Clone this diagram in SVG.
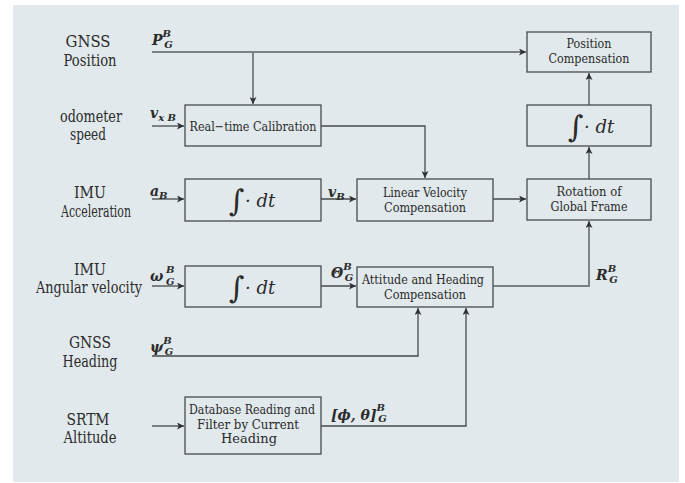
<svg xmlns="http://www.w3.org/2000/svg" width="685" height="483" viewBox="0 0 685 483">
<defs>
<marker id="ah" viewBox="0 0 10 10" refX="10" refY="5" markerWidth="7" markerHeight="7" markerUnits="userSpaceOnUse" orient="auto">
<path d="M0,0 L10,5 L0,10 L2.5,5 Z" fill="#2e3133"/>
</marker>
<style>
text{font-family:'DejaVu Serif','Liberation Serif',serif}
.lbl{font-size:16px;fill:#2b2b2b;text-anchor:middle}
.bt{font-size:13px;fill:#2b2b2b;text-anchor:middle}
.box{fill:none;stroke:#474a4c;stroke-width:1.3}
.m{font-style:italic;font-weight:bold;font-size:14px;fill:#2b2b2b}
.ms{font-size:10px}
.int{font-size:30px;fill:#2b2b2b}
.dt{font-style:italic;font-size:18px;fill:#2b2b2b}
.c1{fill:none;stroke:#7d8284;stroke-width:2}
.c2{fill:none;stroke:#45494b;stroke-width:1.3}
</style>
</defs>
<rect x="13" y="5" width="666" height="477" fill="#e1e9ec"/>

<g id="input-labels">
<text class="lbl" x="88" y="47" textLength="45" lengthAdjust="spacingAndGlyphs">GNSS</text>
<text class="lbl" x="90" y="66" textLength="53" lengthAdjust="spacingAndGlyphs">Position</text>
<text class="lbl" x="91" y="122" textLength="62" lengthAdjust="spacingAndGlyphs">odometer</text>
<text class="lbl" x="88" y="140" textLength="36" lengthAdjust="spacingAndGlyphs">speed</text>
<text class="lbl" x="90" y="198" textLength="32" lengthAdjust="spacingAndGlyphs">IMU</text>
<text class="lbl" x="96" y="217" textLength="70" lengthAdjust="spacingAndGlyphs">Acceleration</text>
<text class="lbl" x="90" y="275" textLength="32" lengthAdjust="spacingAndGlyphs">IMU</text>
<text class="lbl" x="89" y="293" textLength="106" lengthAdjust="spacingAndGlyphs">Angular velocity</text>
<text class="lbl" x="90" y="348" textLength="42" lengthAdjust="spacingAndGlyphs">GNSS</text>
<text class="lbl" x="90" y="367" textLength="55" lengthAdjust="spacingAndGlyphs">Heading</text>
<text class="lbl" x="88" y="425" textLength="43" lengthAdjust="spacingAndGlyphs">SRTM</text>
<text class="lbl" x="90" y="443" textLength="53" lengthAdjust="spacingAndGlyphs">Altitude</text>
</g>

<g id="connectors">
<path class="c1" d="M152,52 H526" marker-end="url(#ah)"/>
<path class="c1" d="M253,52 V104" marker-end="url(#ah)"/>
<path class="c2" d="M152,126 H184" marker-end="url(#ah)"/>
<path class="c2" d="M321,126 H425 V178" marker-end="url(#ah)"/>
<path class="c2" d="M152,199 H184" marker-end="url(#ah)"/>
<path class="c2" d="M321,199 H356" marker-end="url(#ah)"/>
<path class="c2" d="M493,199 H526" marker-end="url(#ah)"/>
<path class="c1" d="M589,179 V147" marker-end="url(#ah)"/>
<path class="c1" d="M589,105 V73" marker-end="url(#ah)"/>
<path class="c2" d="M152,286 H184" marker-end="url(#ah)"/>
<path class="c2" d="M321,286 H356" marker-end="url(#ah)"/>
<path class="c1" d="M493,286 H589 V221" marker-end="url(#ah)"/>
<path class="c2" d="M152,356 H418 V308" marker-end="url(#ah)"/>
<path class="c2" d="M152,426 H184" marker-end="url(#ah)"/>
<path class="c2" d="M321,426 H466 V308" marker-end="url(#ah)"/>
</g>

<g id="signal-labels">
<text class="m" x="152" y="45">P<tspan class="ms" dy="-8">B</tspan><tspan class="ms" dx="-7" dy="11">G</tspan></text>
<text class="m" x="150" y="118">v<tspan class="ms" dy="3">x B</tspan></text>
<text class="m" x="150" y="196">a<tspan class="ms" dy="3">B</tspan></text>
<text class="m" x="328" y="197">v<tspan class="ms" dy="3">B</tspan></text>
<text class="m" x="150" y="281">ω</text>
<text class="m ms" x="166" y="273">B</text>
<text class="m ms" x="166" y="285">G</text>
<text class="m" x="331" y="278">Θ<tspan class="ms" dy="-8">B</tspan><tspan class="ms" dx="-7" dy="11">G</tspan></text>
<text class="m" x="596" y="280">R<tspan class="ms" dy="-8">B</tspan><tspan class="ms" dx="-7" dy="11">G</tspan></text>
<text class="m" x="150" y="352">ψ<tspan class="ms" dy="-8">B</tspan><tspan class="ms" dx="-7" dy="11">G</tspan></text>
<text class="m" x="331" y="420">[ϕ, θ]<tspan class="ms" dy="-9">B</tspan><tspan class="ms" dx="-7" dy="11">G</tspan></text>
</g>

<g id="real-time-calibration">
<rect class="box" x="185" y="105" width="136" height="41"/>
<text class="bt" x="253" y="131" textLength="127" lengthAdjust="spacingAndGlyphs">Real−time Calibration</text>
</g>
<g id="position-compensation">
<rect class="box" x="527" y="32" width="124" height="40"/>
<text class="bt" x="589" y="48" textLength="45" lengthAdjust="spacingAndGlyphs">Position</text>
<text class="bt" x="589" y="63" textLength="81" lengthAdjust="spacingAndGlyphs">Compensation</text>
</g>
<g id="integral-position">
<rect class="box" x="527" y="105" width="124" height="41"/>
<text class="int" x="568" y="137">∫</text><text class="dt" x="584" y="133">· dt</text>
</g>
<g id="integral-acceleration">
<rect class="box" x="185" y="179" width="136" height="42"/>
<text class="int" x="229" y="211">∫</text><text class="dt" x="245" y="207">· dt</text>
</g>
<g id="linear-velocity-compensation">
<rect class="box" x="357" y="179" width="136" height="42"/>
<text class="bt" x="425" y="197" textLength="84" lengthAdjust="spacingAndGlyphs">Linear Velocity</text>
<text class="bt" x="425" y="212" textLength="82" lengthAdjust="spacingAndGlyphs">Compensation</text>
</g>
<g id="rotation-global-frame">
<rect class="box" x="527" y="179" width="124" height="41"/>
<text class="bt" x="589" y="196" textLength="65" lengthAdjust="spacingAndGlyphs">Rotation of</text>
<text class="bt" x="589" y="211" textLength="77" lengthAdjust="spacingAndGlyphs">Global Frame</text>
</g>
<g id="integral-angular">
<rect class="box" x="185" y="266" width="136" height="41"/>
<text class="int" x="229" y="298">∫</text><text class="dt" x="245" y="294">· dt</text>
</g>
<g id="attitude-heading-compensation">
<rect class="box" x="357" y="267" width="136" height="40"/>
<text class="bt" x="423" y="284" textLength="122" lengthAdjust="spacingAndGlyphs">Attitude and Heading</text>
<text class="bt" x="425" y="299" textLength="82" lengthAdjust="spacingAndGlyphs">Compensation</text>
</g>
<g id="database-reading">
<rect class="box" x="185" y="397" width="136" height="57"/>
<text class="bt" x="252" y="414" textLength="126" lengthAdjust="spacingAndGlyphs">Database Reading and</text>
<text class="bt" x="248" y="428.5" textLength="102" lengthAdjust="spacingAndGlyphs">Filter by Current</text>
<text class="bt" x="249" y="443" textLength="56" lengthAdjust="spacingAndGlyphs">Heading</text>
</g>
</svg>
